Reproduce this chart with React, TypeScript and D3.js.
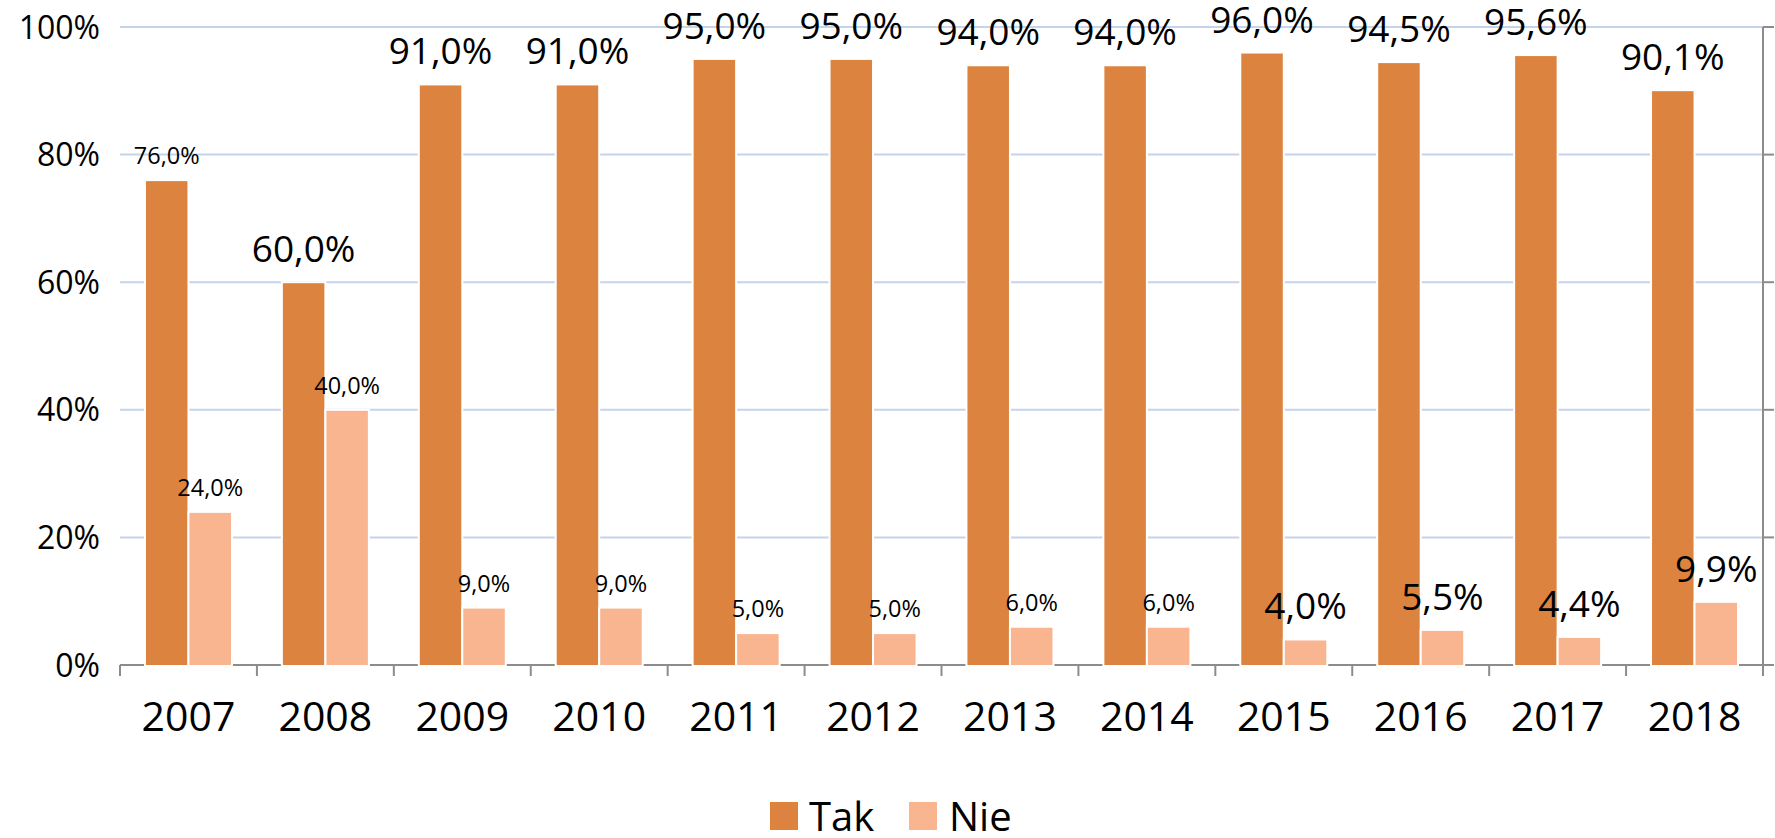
import React, { useEffect } from "react";
import { scaleBand, scaleLinear } from "d3";

const years = ["2007", "2008", "2009", "2010", "2011", "2012", "2013", "2014", "2015", "2016", "2017", "2018"];
const takValues = [76, 60, 91, 91, 95, 95, 94, 94, 96, 94.5, 95.6, 90.1];
const nieValues = [24, 40, 9, 9, 5, 5, 6, 6, 4, 5.5, 4.4, 9.9];
// which labels use the big font in the original
const takBigLabel = [false, true, true, true, true, true, true, true, true, true, true, true];
const nieBigLabel = [false, false, false, false, false, false, false, false, true, true, true, true];
const yTicks = [0, 20, 40, 60, 80, 100];
const seriesNames = ["Tak", "Nie"];
const seriesColors = ["#DC843F", "#F8B590"];

const WIDTH = 1775;
const HEIGHT = 838;
const FONT = "'Open Sans', sans-serif";

function App() {
    useEffect(() => {
        document.body.style.margin = "0";
    }, []);

    const left = 120;
    const right = 1763;
    const top = 27;
    const bottom = 665;

    const x0 = scaleBand().domain(years).range([left, right]).padding(0);
    const group = 87;
    const x1 = scaleBand()
        .domain(seriesNames)
        .range([(x0.bandwidth() - group) / 2, (x0.bandwidth() + group) / 2]);
    const y = scaleLinear().domain([0, 100]).range([bottom, top]);

    const fmt = (v: number) => v.toFixed(1).replace(".", ",") + "%";

    const series = [
        { name: "Tak", values: takValues, big: takBigLabel, color: seriesColors[0] },
        { name: "Nie", values: nieValues, big: nieBigLabel, color: seriesColors[1] },
    ];

    return (
        <svg width={WIDTH} height={HEIGHT} style={{ display: "block", background: "#fff" }} fontFamily={FONT}>
            {/* gridlines */}
            {yTicks.filter(t => t > 0).map(t => (
                <line key={"g" + t} x1={left} x2={right} y1={y(t)} y2={y(t)} stroke="#C5D4EA" strokeWidth={2} />
            ))}
            {/* y labels */}
            {yTicks.map(t => (
                <text key={"yl" + t} x={100} y={y(t)} dy="0.36em" textAnchor="end" fontSize={32} fill="#000">
                    {t}%
                </text>
            ))}
            {/* right axis */}
            <line x1={right} x2={right} y1={top} y2={bottom + 11} stroke="#8C8C8C" strokeWidth={2} />
            {yTicks.map(t => (
                <line key={"rt" + t} x1={right} x2={right + 11} y1={y(t)} y2={y(t)} stroke="#8C8C8C" strokeWidth={2} />
            ))}
            {/* bottom axis */}
            <line x1={left} x2={right} y1={bottom} y2={bottom} stroke="#8C8C8C" strokeWidth={2} />
            {years.concat(["end"]).map((yr, i) => {
                const xx = left + i * x0.bandwidth();
                return <line key={"bt" + i} x1={xx} x2={xx} y1={bottom} y2={bottom + 11} stroke="#8C8C8C" strokeWidth={2} />;
            })}
            {/* bars */}
            {series.map(s =>
                s.values.map((v, i) => (
                    <rect
                        key={s.name + i}
                        x={(x0(years[i]) as number) + (x1(s.name) as number)}
                        y={y(v)}
                        width={x1.bandwidth()}
                        height={bottom - y(v) + 1}
                        fill={s.color}
                        stroke="#fff"
                        strokeWidth={2}
                    />
                ))
            )}
            {/* data labels */}
            {series.map(s =>
                s.values.map((v, i) => (
                    <text
                        key={"l" + s.name + i}
                        x={(x0(years[i]) as number) + (x1(s.name) as number) + x1.bandwidth() / 2}
                        y={y(v) - (s.big[i] ? 20 : 16)}
                        textAnchor="middle"
                        fontSize={s.big[i] ? 37 : 23.5}
                        fill="#000"
                    >
                        {fmt(v)}
                    </text>
                ))
            )}
            {/* x labels */}
            {years.map(yr => (
                <text key={"xl" + yr} x={(x0(yr) as number) + x0.bandwidth() / 2} y={731} textAnchor="middle" fontSize={41} fill="#000">
                    {yr}
                </text>
            ))}
            {/* legend */}
            <g>
                <rect x={770} y={802} width={28} height={28} fill={seriesColors[0]} />
                <text x={809} y={831} fontSize={40} fill="#000">Tak</text>
                <rect x={909} y={802} width={28} height={28} fill={seriesColors[1]} />
                <text x={949} y={831} fontSize={40} fill="#000">Nie</text>
            </g>
        </svg>
    );
}

export default App;
